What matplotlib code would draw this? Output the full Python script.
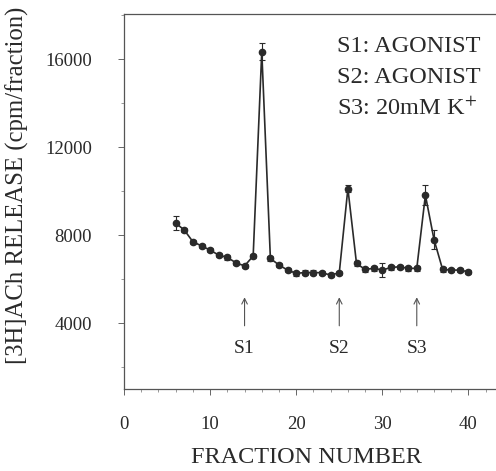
import numpy as np
import matplotlib
matplotlib.use("Agg")
import matplotlib.pyplot as plt
from matplotlib.ticker import MultipleLocator

# fraction number vs [3H]ACh release (cpm/fraction)
fractions = list(range(6, 41))
release = [8550, 8230, 7700, 7510, 7320, 7090, 6990, 6740, 6600, 7050,
           16350, 6940, 6640, 6410, 6260, 6300, 6300, 6290, 6180, 6290,
           10120, 6710, 6440, 6490, 6410, 6530, 6560, 6490, 6490, 9820,
           7800, 6440, 6410, 6410, 6330]
errors = [320, 100, 100, 100, 100, 100, 100, 100, 100, 100,
          400, 100, 100, 100, 100, 100, 100, 100, 100, 100,
          150, 100, 100, 100, 300, 100, 100, 100, 100, 450,
          450, 100, 100, 100, 100]

stim_names = ["S1", "S2", "S3"]
stim_fraction = [14, 25, 34]
legend_lines = ["S1: AGONIST", "S2: AGONIST", "S3: 20mM K$^{+}$"]

plt.rcParams['font.family'] = ['Liberation Serif', 'DejaVu Serif']
plt.rcParams['mathtext.fontset'] = 'stix'

ink = '#2a2a2a'
fig = plt.figure(figsize=(4.96, 4.71), dpi=100)
ax = fig.add_axes([0.25, 0.174, 0.75, 0.796])

ax.errorbar(fractions, release, yerr=errors, color=ink, lw=1.2,
            marker='o', ms=4.5, mfc=ink, mec=ink, elinewidth=0.8,
            capsize=2, capthick=0.8)

for name, fx in zip(stim_names, stim_fraction):
    ax.annotate("", xy=(fx, 5300), xytext=(fx, 3750),
                arrowprops=dict(arrowstyle='->', color='#555555', lw=0.8))
    ax.text(fx, 2850, name, ha='center', va='center', fontsize=14, color=ink)

for i, line in enumerate(legend_lines):
    ax.text(24.7, 16600 - i * 1420, line, ha='left', va='center',
            fontsize=17.5, color=ink)

ax.set_xlim(0, 43.2)
ax.set_ylim(1000, 18050)
ax.set_xticks([0, 10, 20, 30, 40])
ax.set_yticks([4000, 8000, 12000, 16000])
ax.xaxis.set_minor_locator(MultipleLocator(2))
ax.yaxis.set_minor_locator(MultipleLocator(2000))
ax.tick_params(axis='both', which='major', direction='out', length=4,
               width=0.7, color='#666666', labelsize=13.5, labelcolor=ink)
ax.tick_params(axis='both', which='minor', direction='out', length=2,
               width=0.6, color='#888888')
ax.tick_params(axis='x', which='major', pad=15.5)
ax.tick_params(axis='y', which='major', pad=19)

ax.spines['right'].set_visible(False)
for s in ['left', 'bottom', 'top']:
    ax.spines[s].set_color('#555555')
    ax.spines[s].set_linewidth(0.9)

ax.set_xlabel("FRACTION NUMBER", fontsize=17.5, color=ink)
ax.set_ylabel("[3H]ACh RELEASE (cpm/fraction)", fontsize=17.8, color=ink)
ax.xaxis.set_label_coords(0.49, -0.155)
ax.yaxis.set_label_coords(-0.255, 0.544)

fig.savefig("out.png", dpi=100)
